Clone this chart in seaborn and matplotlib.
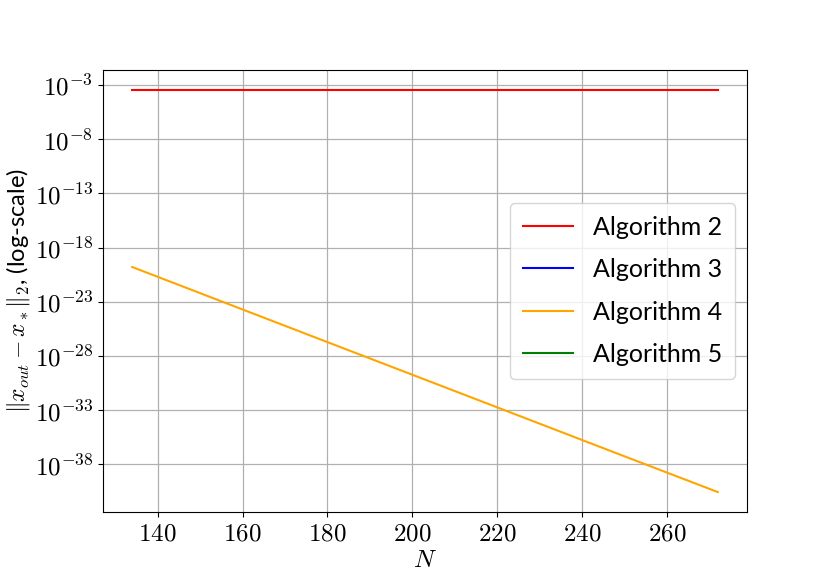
import numpy as np
import matplotlib
matplotlib.use("Agg")
import matplotlib.pyplot as plt
import matplotlib.ticker as mticker
import seaborn as sns

# datos
N = [134, 157, 180, 203, 226, 249, 272]
alg2 = [3.5e-4, 3.5e-4, 3.5e-4, 3.5e-4, 3.5e-4, 3.5e-4, 3.5e-4]
alg3 = [0, 0, 0, 0, 0, 0, 0]
alg4 = [1.6e-20, 5.5e-24, 1.9e-27, 6.6e-31, 2.3e-34, 7.9e-38, 2.8e-41]
alg5 = [0, 0, 0, 0, 0, 0, 0]

series = [("Algorithm 2", alg2, "red"),
          ("Algorithm 3", alg3, "blue"),
          ("Algorithm 4", alg4, "orange"),
          ("Algorithm 5", alg5, "green")]

plt.rcParams["mathtext.fontset"] = "cm"
plt.rcParams["font.family"] = ["Lato", "DejaVu Sans"]

fig, ax = plt.subplots(figsize=(8.3, 5.86), dpi=100)
fig.subplots_adjust(left=0.124, right=0.9, top=0.881, bottom=0.126)

for nombre, valores, color in series:
    sns.lineplot(x=N, y=valores, color=color, label=nombre, linewidth=1.5, ax=ax)

ax.set_yscale("log")
ax.yaxis.set_major_locator(mticker.FixedLocator([10.0 ** e for e in range(-38, 0, 5)]))
ax.yaxis.set_minor_locator(mticker.NullLocator())
ax.yaxis.set_major_formatter(mticker.FuncFormatter(
    lambda v, p: "$10^{%d}$" % int(round(np.log10(v)))))
ax.xaxis.set_major_locator(mticker.MultipleLocator(20))
ax.xaxis.set_major_formatter(mticker.FuncFormatter(lambda v, p: f"${int(v)}$"))
ax.grid(True, color="#b0b0b0", linewidth=0.9)
ax.tick_params(labelsize=18)

ax.set_xlabel(r"$N$", fontsize=18, labelpad=2)
ax.set_ylabel(r"$\|x_{out} - x_*\|_2$, (log-scale)", fontsize=17, labelpad=2)
ax.legend(loc="center right", fontsize=18, labelspacing=0.78, borderpad=0.5)

plt.savefig("out.png", dpi=100)
